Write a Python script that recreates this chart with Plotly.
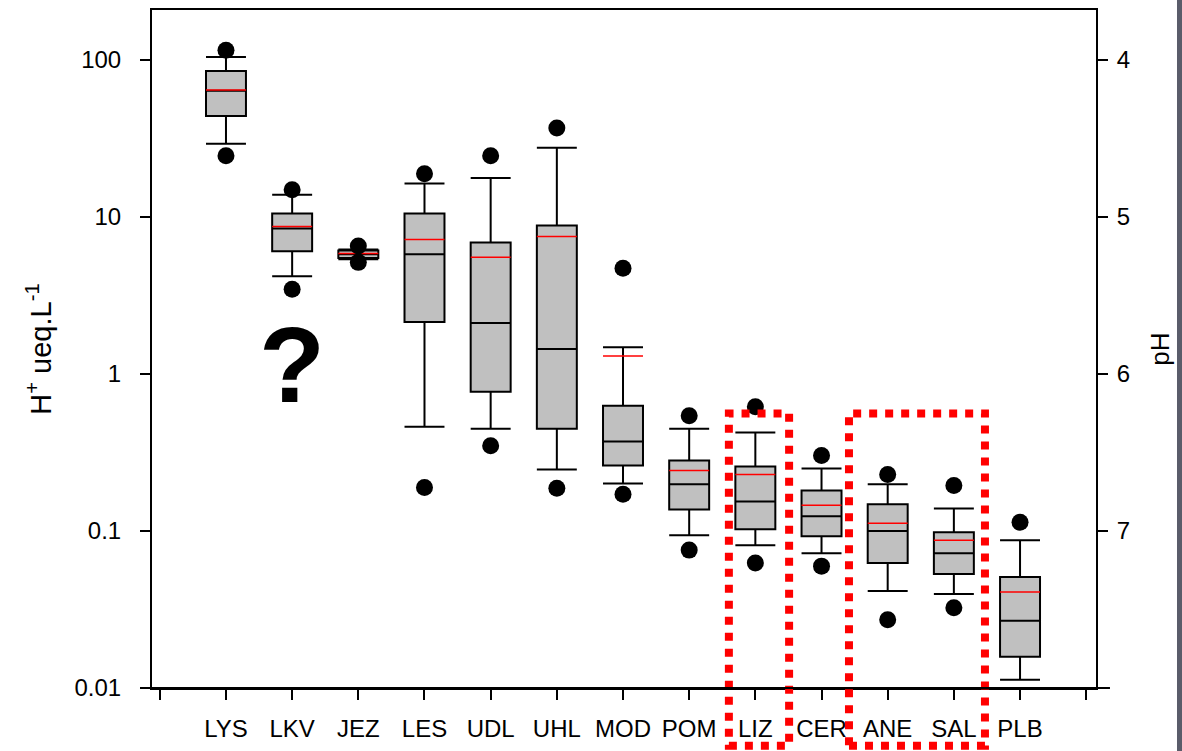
import plotly.graph_objects as go

# ---------------- data ----------------
categories = ["LYS", "LKV", "JEZ", "LES", "UDL", "UHL", "MOD", "POM",
              "LIZ", "CER", "ANE", "SAL", "PLB"]
upper_whisker = [104, 13.8, 6.2, 16.3, 17.7, 27.5, 1.48, 0.448, 0.423, 0.250, 0.198, 0.139, 0.0873]
q3 = [84.7, 10.5, 6.11, 10.5, 6.87, 8.81, 0.627, 0.281, 0.257, 0.181, 0.148, 0.0981, 0.0509]
median = [63.5, 8.43, 5.77, 5.77, 2.11, 1.44, 0.371, 0.198, 0.154, 0.124, 0.100, 0.0722, 0.0268]
q1 = [43.9, 6.03, 5.47, 2.14, 0.769, 0.448, 0.261, 0.137, 0.1025, 0.0926, 0.0624, 0.0531, 0.0158]
lower_whisker = [29.2, 4.18, 5.37, 0.461, 0.448, 0.246, 0.2007, 0.094, 0.0812, 0.0722, 0.0415, 0.0397, 0.0113]
mean = [64.2, 8.68, 5.85, 7.18, 5.52, 7.50, 1.30, 0.243, 0.229, 0.1456, 0.112, 0.0873, 0.0409]
p95 = [115, 14.9, 6.53, 18.8, 24.5, 36.8, 4.70, 0.542, 0.618, 0.302, 0.229, 0.195, 0.1135]
p5 = [24.5, 3.46, 5.13, 0.189, 0.349, 0.187, 0.171, 0.0755, 0.0624, 0.0597, 0.0272, 0.0324, None]

y_ticks = [0.01, 0.1, 1, 10, 100]
y_ticktext = ["0.01", "0.1", "1", "10", "100"]
ph_ticks = [4, 5, 6, 7]

highlight_single = "LIZ"
highlight_pair = ("ANE", "SAL")

# ---------------- figure ----------------
FONT = "Liberation Sans, Arial, sans-serif"
BOX_W = 0.604
x_idx = list(range(len(categories)))

fig = go.Figure()
fig.add_trace(go.Box(
    x=x_idx, q1=q1, median=median, q3=q3,
    lowerfence=lower_whisker, upperfence=upper_whisker,
    width=BOX_W, whiskerwidth=1, fillcolor="#c0c0c0",
    line=dict(color="black", width=2), boxpoints=False,
    hoverinfo="skip", showlegend=False,
))

mx, my = [], []
for i, m in zip(x_idx, mean):
    mx += [i - BOX_W / 2, i + BOX_W / 2, None]
    my += [m, m, None]
fig.add_trace(go.Scatter(x=mx, y=my, mode="lines",
                         line=dict(color="red", width=1.5),
                         hoverinfo="skip", showlegend=False))

dx, dy = [], []
for i, (hi, lo) in zip(x_idx, zip(p95, p5)):
    dx.append(i); dy.append(hi)
    if lo is not None:
        dx.append(i); dy.append(lo)
fig.add_trace(go.Scatter(x=dx, y=dy, mode="markers",
                         marker=dict(color="black", size=17),
                         hoverinfo="skip", showlegend=False))

# invisible trace to attach the pH axis
fig.add_trace(go.Scatter(x=[None], y=[None], yaxis="y2", showlegend=False, hoverinfo="skip"))

# question mark
fig.add_annotation(x=categories.index("LKV"), y=0.06, xref="x", yref="y",
                   text="<b>?</b>", showarrow=False, yanchor="middle",
                   font=dict(size=108, family=FONT, color="black"))

# red dotted highlight boxes
i_liz = categories.index(highlight_single)
fig.add_shape(type="rect", xref="x", yref="paper",
              x0=i_liz - 0.40, x1=i_liz + 0.51, y0=-0.085, y1=0.405,
              line=dict(color="red", width=8, dash="dot"), layer="above")
i_a, i_b = categories.index(highlight_pair[0]), categories.index(highlight_pair[1])
fig.add_shape(type="rect", xref="x", yref="paper",
              x0=i_a - 0.585, x1=i_b + 0.47, y0=-0.085, y1=0.405,
              line=dict(color="red", width=8, dash="dot"), layer="above")

# extended bottom axis line
fig.add_shape(type="line", xref="paper", yref="paper",
              x0=-0.0117, x1=1.0148, y0=0, y1=0,
              line=dict(color="black", width=2), layer="above")
# gray strip on the right edge
fig.add_shape(type="rect", xref="paper", yref="paper",
              x0=1.0858, x1=1.11, y0=-0.2, y1=1.2,
              line=dict(width=0), fillcolor="#5a5c6a", layer="above")

axis_common = dict(showgrid=False, zeroline=False, showline=True,
                   linecolor="black", linewidth=2, ticks="outside",
                   ticklen=10, tickwidth=2, tickcolor="black")

fig.update_layout(
    width=1182, height=751,
    margin=dict(l=152, r=86, t=8, b=63),
    paper_bgcolor="white", plot_bgcolor="white",
    font=dict(family=FONT, size=24, color="black"),
    showlegend=False,
    xaxis=dict(range=[-1.118, 13.148], tickvals=x_idx, ticktext=categories,
               mirror=True, ticklabelstandoff=8,
               minor=dict(tickvals=[-1, len(categories)], ticks="outside",
                          ticklen=10, tickwidth=2, tickcolor="black", showgrid=False),
               **axis_common),
    yaxis=dict(type="log", range=[-2, 2.317], tickvals=y_ticks, ticktext=y_ticktext,
               ticklabelstandoff=14,
               title=dict(text="H<sup>+</sup> ueq.L<sup>-1</sup>", standoff=14,
                          font=dict(size=29)),
               **axis_common),
    yaxis2=dict(overlaying="y", side="right", range=[8, 3.683], tickvals=ph_ticks,
                ticklabelstandoff=4,
                title=dict(text="pH", standoff=22, font=dict(size=26)),
                **axis_common),
)

fig.write_html("out.html")
